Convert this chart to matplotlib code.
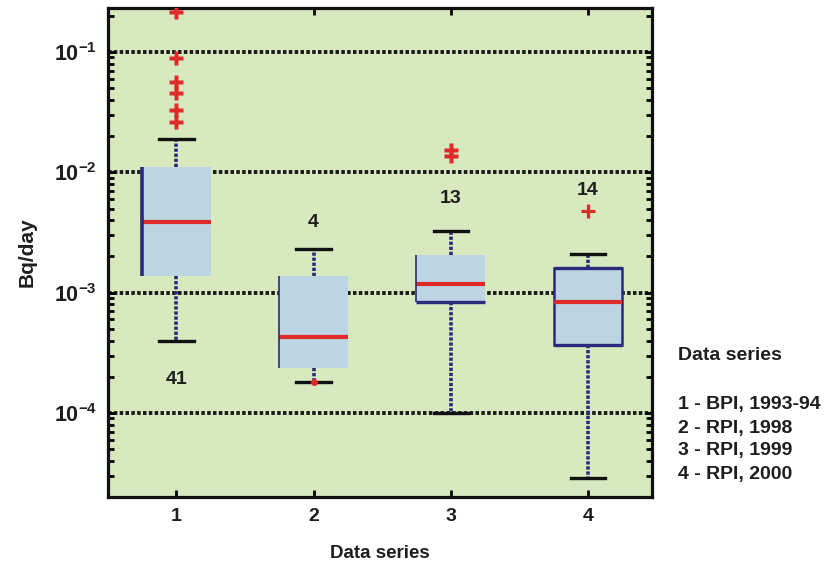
import numpy as np
import matplotlib.pyplot as plt
from matplotlib.ticker import LogLocator, NullFormatter

plt.rcParams['font.family'] = ['Liberation Sans', 'DejaVu Sans']
plt.rcParams['font.weight'] = 'bold'
plt.rcParams['axes.labelweight'] = 'bold'
plt.rcParams['mathtext.fontset'] = 'custom'
plt.rcParams['mathtext.rm'] = 'Liberation Sans:bold'
plt.rcParams['mathtext.it'] = 'Liberation Sans:bold'
plt.rcParams['mathtext.bf'] = 'Liberation Sans:bold'
plt.rcParams['mathtext.default'] = 'rm'

# data (Bq/day)
series = [1, 2, 3, 4]
q1 = [1.38e-3, 2.38e-4, 8.3e-4, 3.7e-4]
med = [3.84e-3, 4.3e-4, 1.19e-3, 8.4e-4]
q3 = [1.1e-2, 1.38e-3, 2.04e-3, 1.61e-3]
whislo = [4.0e-4, 1.82e-4, 1.0e-4, 2.9e-5]
whishi = [1.88e-2, 2.32e-3, 3.27e-3, 2.11e-3]
fliers = [[0.215, 0.089, 0.056, 0.0456, 0.033, 0.026],
          [1.82e-4],
          [0.0153, 0.0136],
          [4.74e-3]]
counts = [41, 4, 13, 14]
count_y = [1.9e-4, 3.84e-3, 6.1e-3, 7.1e-3]
legend_lines = ['1 - BPI, 1993-94', '2 - RPI, 1998', '3 - RPI, 1999', '4 - RPI, 2000']

navy = '#2b2a7c'
red = '#e02a2a'
ink = '#1e1e1e'

fig = plt.figure(figsize=(8.3, 5.72), dpi=100)
ax = fig.add_axes([0.130, 0.131, 0.656, 0.855])
ax.set_facecolor('#d8e8bf')

stats = []
for i in range(4):
    stats.append(dict(med=med[i], q1=q1[i], q3=q3[i], whislo=whislo[i],
                      whishi=whishi[i], fliers=fliers[i]))

bp = ax.bxp(stats, positions=series, widths=0.5, capwidths=0.25,
            patch_artist=True,
            boxprops=dict(facecolor='#bdd5e3', edgecolor='none', linewidth=0),
            medianprops=dict(color=red, linewidth=3, solid_capstyle='butt'),
            whiskerprops=dict(color=navy, linewidth=2.6, linestyle=(0, (0.9, 0.5))),
            capprops=dict(color='#111111', linewidth=2.4),
            flierprops=dict(marker='P', markersize=10, markerfacecolor=red,
                            markeredgecolor='none'),
            zorder=3)
fl = bp['fliers'][1]
fl.set_marker('o')
fl.set_markersize(5)
fl.set_zorder(5)
bp['fliers'][3].set_marker('+')
bp['fliers'][3].set_markeredgecolor(red)
bp['fliers'][3].set_markeredgewidth(2.3)
bp['fliers'][3].set_markersize(10)

# box edges as drawn in the original
ax.vlines(series[0] - 0.25, q1[0], q3[0], color=navy, lw=2.6, zorder=4)
ax.vlines(series[1] - 0.25, q1[1], q3[1], color=navy, lw=1.2, zorder=4)
ax.vlines(series[2] - 0.25, q1[2], q3[2], color=navy, lw=1.2, zorder=4)
ax.hlines(q1[2], series[2] - 0.25, series[2] + 0.25, color=navy, lw=2.4, zorder=4)
bp['boxes'][3].set_edgecolor(navy)
bp['boxes'][3].set_linewidth(1.8)
ax.hlines([q1[3], q3[3]], series[3] - 0.25, series[3] + 0.25, color=navy, lw=2.4, zorder=4)

for x, n, y in zip(series, counts, count_y):
    ax.text(x, y, str(n), ha='center', va='center', fontsize=14, color=ink)

ax.set_yscale('log')
ax.set_ylim(2.0e-5, 0.232)
ax.set_xlim(0.5, 4.47)
ax.set_xticks(series)
ax.set_xticklabels([str(s) for s in series], fontsize=14, color=ink)
ax.set_yticks([1e-4, 1e-3, 1e-2, 1e-1])
ax.set_yticklabels([r'$10^{-4}$', r'$10^{-3}$', r'$10^{-2}$', r'$10^{-1}$'],
                   fontsize=15.5, color=ink)
ax.yaxis.set_minor_locator(LogLocator(base=10, subs=np.arange(2, 10)))
ax.yaxis.set_minor_formatter(NullFormatter())
ax.tick_params(axis='both', which='major', direction='in', length=5, width=2,
               top=True, right=True, pad=8)
ax.tick_params(axis='y', which='minor', direction='in', length=4, width=2, right=True)

ax.set_axisbelow(True)
ax.yaxis.grid(True, which='major', color='#1a1a1a', linewidth=2.8, linestyle=(0, (0.9, 0.6)))
for s in ax.spines.values():
    s.set_linewidth(2.3)
    s.set_color('#111111')

ax.set_xlabel('Data series', fontsize=13.5, labelpad=14, color=ink)
ax.set_ylabel('Bq/day', fontsize=15, labelpad=12, color=ink)

fig.text(0.817, 1 - 355 / 572, 'Data series', fontsize=14, va='center', ha='left', color=ink)
for k, line in enumerate(legend_lines):
    fig.text(0.817, 1 - (405 + 23 * k) / 572, line, fontsize=14, va='center', ha='left',
             color=ink)

fig.savefig('out.png', dpi=100)
